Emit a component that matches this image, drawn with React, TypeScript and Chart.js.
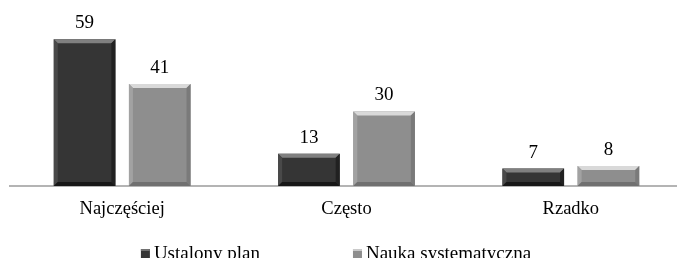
import React, { useEffect, useRef } from "react";
import { Chart, registerables } from "chart.js";

Chart.register(...registerables);

const categories = ["Najczęściej", "Często", "Rzadko"];
const seriesNames = ["Ustalony plan", "Nauka systematyczna"];
const ustalonyPlan = [59, 13, 7];
const naukaSystematyczna = [41, 30, 8];

const FONT = "'Liberation Serif', 'Times New Roman', serif";
const darkColor = "#353535";
const lightColor = "#8e8e8e";

function shade(hex: string, amt: number) {
  const n = parseInt(hex.slice(1), 16);
  const clamp = (v: number) => Math.max(0, Math.min(255, Math.round(v)));
  const r = clamp(((n >> 16) & 255) + amt);
  const g = clamp(((n >> 8) & 255) + amt);
  const b = clamp((n & 255) + amt);
  return `rgb(${r},${g},${b})`;
}

const bevelPlugin = {
  id: "bevel",
  afterDatasetsDraw(chart: any) {
    const ctx = chart.ctx;
    chart.data.datasets.forEach((ds: any, di: number) => {
      const meta = chart.getDatasetMeta(di);
      const base = ds.backgroundColor as string;
      meta.data.forEach((bar: any) => {
        const { x, y, base: b, width } = bar.getProps(["x", "y", "base", "width"], true);
        const l = x - width / 2;
        const r = x + width / 2;
        const t = y;
        const bt = b;
        const e = 4;
        ctx.save();
        ctx.fillStyle = shade(base, 75);
        ctx.beginPath();
        ctx.moveTo(l, t);
        ctx.lineTo(r, t);
        ctx.lineTo(r - e, t + e);
        ctx.lineTo(l + e, t + e);
        ctx.closePath();
        ctx.fill();
        ctx.fillStyle = shade(base, 20);
        ctx.beginPath();
        ctx.moveTo(l, t);
        ctx.lineTo(l + e, t + e);
        ctx.lineTo(l + e, bt - e);
        ctx.lineTo(l, bt);
        ctx.closePath();
        ctx.fill();
        ctx.fillStyle = shade(base, -20);
        ctx.beginPath();
        ctx.moveTo(r, t);
        ctx.lineTo(r - e, t + e);
        ctx.lineTo(r - e, bt - e);
        ctx.lineTo(r, bt);
        ctx.closePath();
        ctx.fill();
        ctx.fillStyle = shade(base, -30);
        ctx.beginPath();
        ctx.moveTo(l, bt);
        ctx.lineTo(l + e, bt - e);
        ctx.lineTo(r - e, bt - e);
        ctx.lineTo(r, bt);
        ctx.closePath();
        ctx.fill();
        ctx.restore();
      });
    });
  },
};

const valueLabelPlugin = {
  id: "valueLabels",
  afterDatasetsDraw(chart: any) {
    const ctx = chart.ctx;
    ctx.save();
    ctx.font = `19px ${FONT}`;
    ctx.fillStyle = "#000";
    ctx.textAlign = "center";
    ctx.textBaseline = "alphabetic";
    chart.data.datasets.forEach((ds: any, di: number) => {
      const meta = chart.getDatasetMeta(di);
      meta.data.forEach((bar: any, i: number) => {
        ctx.fillText(String(ds.data[i]), bar.x, bar.y - 11);
      });
    });
    ctx.restore();
  },
};

const legendPlugin = {
  id: "customLegend",
  afterDraw(chart: any) {
    const ctx = chart.ctx;
    ctx.save();
    ctx.font = `19px ${FONT}`;
    const box = 9;
    const gapBoxText = 4;
    const itemGap = 93;
    const widths = chart.data.datasets.map((ds: any) => box + gapBoxText + ctx.measureText(ds.label).width);
    const total = widths.reduce((a: number, b: number) => a + b, 0) + itemGap * (widths.length - 1);
    let x = 336 - total / 2;
    const yMid = 253;
    chart.data.datasets.forEach((ds: any, i: number) => {
      ctx.fillStyle = ds.backgroundColor;
      ctx.fillRect(x, yMid - 4, box, box);
      ctx.fillStyle = shade(ds.backgroundColor, 60);
      ctx.fillRect(x, yMid - 4, box, 2);
      ctx.fillStyle = "#000";
      ctx.textAlign = "left";
      ctx.textBaseline = "middle";
      ctx.fillText(ds.label, x + box + gapBoxText, yMid + 1);
      x += widths[i] + itemGap;
    });
    ctx.restore();
  },
};

export default function App() {
  const ref = useRef<HTMLCanvasElement>(null);
  useEffect(() => {
    if (!ref.current) return;
    const chart = new Chart(ref.current, {
      type: "bar",
      data: {
        labels: categories,
        datasets: [
          { label: seriesNames[0], data: ustalonyPlan, backgroundColor: darkColor, borderWidth: 0 },
          { label: seriesNames[1], data: naukaSystematyczna, backgroundColor: lightColor, borderWidth: 0 },
        ],
      },
      options: {
        responsive: false,
        animation: false,
        layout: { padding: { left: 10, right: 2, top: 12, bottom: 0 } },
        datasets: { bar: { barPercentage: 0.82, categoryPercentage: 0.67 } },
        plugins: { legend: { display: false }, tooltip: { enabled: false } },
        scales: {
          x: {
            grid: { display: false, drawTicks: false },
            border: { display: true, color: "#b4b4b4", width: 2 },
            ticks: { color: "#000", font: { family: FONT, size: 18.5 }, padding: 12 },
            afterFit: (s: any) => {
              s.height = 72;
            },
          },
          y: { display: false, min: 0, max: 70 },
        },
      },
      plugins: [bevelPlugin, valueLabelPlugin, legendPlugin],
    });
    return () => chart.destroy();
  }, []);
  return (
    <div style={{ position: "fixed", left: 0, top: 0, width: 677, height: 258, overflow: "hidden", background: "#fff" }}>
      <canvas ref={ref} width={685} height={258} style={{ display: "block" }} />
    </div>
  );
}
